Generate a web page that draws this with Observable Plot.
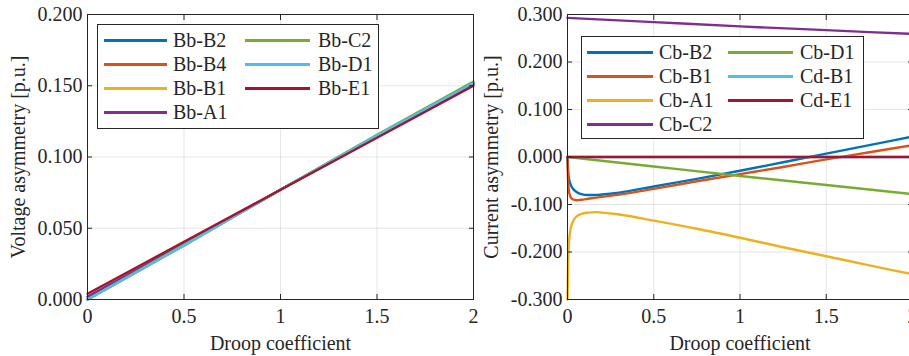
<!DOCTYPE html>
<html><head><meta charset="utf-8">
<script src="https://cdn.jsdelivr.net/npm/d3@7"></script>
<script src="https://cdn.jsdelivr.net/npm/@observablehq/plot@0.6"></script>
<style>
html,body{margin:0;padding:0;background:#fff;overflow:hidden;}
#wrap{position:relative;width:909px;height:356px;overflow:hidden;font-family:"Liberation Serif","Times New Roman",serif;}
.panel{position:absolute;top:0;}
.legend{position:absolute;border:1px solid #262626;background:#fff;box-sizing:border-box;}
.item{position:absolute;font-size:20px;line-height:20px;color:#262626;white-space:nowrap;}
.sw{position:absolute;height:2.5px;}
</style></head><body><div id="wrap"></div>
<script>
// ---- shared ----
const xTicks = [0, 0.5, 1, 1.5, 2];
const colors = ["#0072BD","#D95319","#EDB120","#7E2F8E","#77AC30","#4DBEEE","#A2142F"];

// ---- left panel: voltage asymmetry ----
const voltNames = ["Bb-B2","Bb-B4","Bb-B1","Bb-A1","Bb-C2","Bb-D1","Bb-E1"];
const xVolt = [0, 0.5, 1, 1.5, 2];
const voltBbB2 = [0, 0.038, 0.077, 0.115, 0.152];
const voltBbB4 = [0, 0.038, 0.077, 0.115, 0.152];
const voltBbB1 = [0, 0.038, 0.077, 0.115, 0.152];
const voltBbA1 = [0.002, 0.039, 0.077, 0.114, 0.151];
const voltBbC2 = [0, 0.0385, 0.077, 0.1155, 0.153];
const voltBbD1 = [0, 0.038, 0.077, 0.115, 0.152];
const voltBbE1 = [0.004, 0.0405, 0.077, 0.1135, 0.150];
const voltYTicks = [0, 0.05, 0.1, 0.15, 0.2];

// ---- right panel: current asymmetry ----
const currNames = ["Cb-B2","Cb-B1","Cb-A1","Cb-C2","Cb-D1","Cd-B1","Cd-E1"];
const xCurrFine = [0, 0.003, 0.007, 0.015, 0.03, 0.05, 0.08, 0.12, 0.16, 0.2, 0.3, 0.5, 0.75, 1, 1.25, 1.5, 1.75, 2];
const xCurrCoarse = [0, 0.5, 1, 1.5, 2];
const currCbB2 = [0, -0.025, -0.042, -0.055, -0.066, -0.073, -0.078, -0.080, -0.080, -0.079, -0.075, -0.062, -0.046, -0.029, -0.011, 0.007, 0.025, 0.043];
const currCbB1 = [0, -0.045, -0.068, -0.082, -0.089, -0.091, -0.090, -0.088, -0.086, -0.084, -0.079, -0.067, -0.051, -0.036, -0.021, -0.005, 0.010, 0.025];
const currCbA1 = [-0.300, -0.235, -0.190, -0.158, -0.137, -0.126, -0.120, -0.117, -0.116, -0.117, -0.121, -0.134, -0.151, -0.170, -0.190, -0.209, -0.228, -0.247];
const currCbC2 = [0.293, 0.284, 0.275, 0.267, 0.259];
const currCbD1 = [0, -0.020, -0.040, -0.059, -0.078];
const currCdB1 = [0, 0, 0, 0, 0];
const currCdE1 = [0, 0, 0, 0, 0];
const currYTicks = [-0.3, -0.2, -0.1, 0, 0.1, 0.2, 0.3];

// ---- tidy tables ----
const voltSeries = [voltBbB2, voltBbB4, voltBbB1, voltBbA1, voltBbC2, voltBbD1, voltBbE1];
const voltData = voltNames.flatMap((s, i) => xVolt.map((x, j) => ({series: s, x, y: voltSeries[i][j]})));
const currSeries = [[xCurrFine, currCbB2], [xCurrFine, currCbB1], [xCurrFine, currCbA1],
  [xCurrCoarse, currCbC2], [xCurrCoarse, currCbD1], [xCurrCoarse, currCdB1], [xCurrCoarse, currCdE1]];
const currData = currNames.flatMap((s, i) => currSeries[i][0].map((x, j) => ({series: s, x, y: currSeries[i][1][j]})));

const ink = "#262626";
function panel({data, names, yDomain, yTicks, yLabel, width, marginRight, yLabelOffset}) {
  return Plot.plot({
    width, height: 356, marginTop: 14, marginBottom: 57, marginLeft: 87, marginRight,
    style: {fontFamily: "'Liberation Serif', 'Times New Roman', serif", fontSize: "20px", color: ink, background: "transparent", overflow: "visible"},
    x: {domain: [0, 2]},
    y: {domain: yDomain},
    color: {domain: names, range: colors},
    marks: [
      Plot.gridX(xTicks, {stroke: "#000", strokeOpacity: 0.1}),
      Plot.gridY(yTicks, {stroke: "#000", strokeOpacity: 0.1}),
      Plot.line(data, {x: "x", y: "y", z: "series", stroke: "series", strokeWidth: 2.4, curve: "monotone-x"}),
      Plot.frame({stroke: ink}),
      Plot.axisX(xTicks, {tickSize: 0, tickPadding: 9, tickFormat: d => String(d), label: "Droop coefficient", labelAnchor: "center", labelArrow: "none", labelOffset: 50}),
      Plot.axisX(xTicks, {tickSize: -5, tickFormat: () => "", label: null, stroke: ink}),
      Plot.axisX(xTicks, {anchor: "top", tickSize: -5, tickFormat: () => "", label: null, stroke: ink}),
      Plot.axisY(yTicks, {tickSize: 0, tickPadding: 5, tickFormat: d => d.toFixed(3), label: yLabel, labelAnchor: "center", labelArrow: "none", labelOffset: yLabelOffset}),
      Plot.axisY(yTicks, {tickSize: -5, tickFormat: () => "", label: null, stroke: ink}),
      Plot.axisY(yTicks, {anchor: "right", tickSize: -5, tickFormat: () => "", label: null, stroke: ink})
    ]
  });
}

const wrap = document.getElementById("wrap");
const left = panel({data: voltData, names: voltNames, yDomain: [0, 0.2], yTicks: voltYTicks,
  yLabel: "Voltage asymmetry [p.u.]", width: 480, marginRight: 7, yLabelOffset: 77});
left.classList.add("panel"); left.style.left = "0px";
wrap.appendChild(left);
const right = panel({data: currData, names: currNames, yDomain: [-0.3, 0.3], yTicks: currYTicks,
  yLabel: "Current asymmetry [p.u.]", width: 440, marginRight: 8, yLabelOffset: 84});
right.classList.add("panel"); right.style.left = "480px";
wrap.appendChild(right);

function legend(names, box, rowYs, col1, col2) {
  const lg = document.createElement("div");
  lg.className = "legend";
  Object.assign(lg.style, {left: box[0] + "px", top: box[1] + "px", width: box[2] + "px", height: box[3] + "px"});
  wrap.appendChild(lg);
  names.forEach((n, i) => {
    const col = i < 4 ? col1 : col2;
    const r = i < 4 ? i : i - 4;
    const y = rowYs[r];
    const sw = document.createElement("div");
    sw.className = "sw";
    Object.assign(sw.style, {left: col[0] + "px", width: (col[1] - col[0]) + "px", top: (y - 1) + "px", background: colors[i]});
    wrap.appendChild(sw);
    const t = document.createElement("div");
    t.className = "item";
    t.textContent = n;
    Object.assign(t.style, {left: col[2] + "px", top: (y - 10) + "px"});
    wrap.appendChild(t);
  });
}
legend(voltNames, [97, 24, 282, 105], [40, 64, 88, 112], [104, 167, 173], [245, 310, 318]);
legend(currNames, [581, 36, 283, 103], [52, 76, 100, 124], [587, 653, 659], [728, 793, 800]);
</script></body></html>
